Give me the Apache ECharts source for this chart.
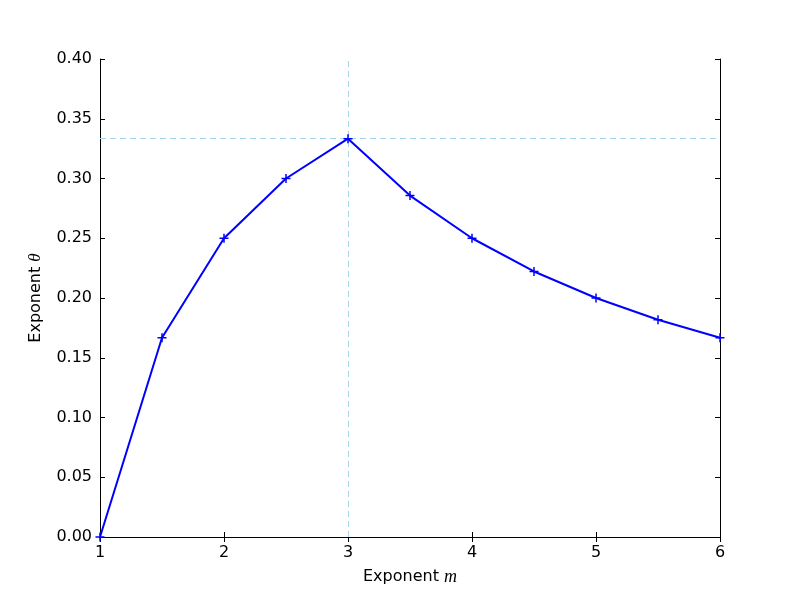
<!DOCTYPE html>
<html>
<head>
<meta charset="utf-8">
<script src="https://cdn.jsdelivr.net/npm/echarts@6/dist/echarts.min.js"></script>
<style>
  html, body { margin: 0; padding: 0; background: #fff; }
  #main { width: 800px; height: 595px; }
</style>
</head>
<body>
<div id="main"></div>
<script>
// exponent m vs exponent theta
var mValues = [1, 1.5, 2, 2.5, 3, 3.5, 4, 4.5, 5, 5.5, 6];
var thetaValues = [0, 0.1667, 0.25, 0.30, 0.3333, 0.2857, 0.25, 0.2222, 0.20, 0.1818, 0.1667];
var peakM = 3;
var peakTheta = 0.3333;

window.onload = function () {
    var chart = echarts.init(document.getElementById('main'));
    var font = 'DejaVu Sans';
    var tick = { show: true, inside: true, length: 5, lineStyle: { color: '#000', width: 1 } };
    var plain = { show: true, lineStyle: { color: '#000', width: 1 } };

    var points = mValues.map(function (m, i) { return [m, thetaValues[i]]; });

    chart.setOption({
        animation: false,
        backgroundColor: '#fff',
        grid: { left: 100, right: 80, top: 59, bottom: 58, containLabel: false },
        xAxis: [{
            type: 'value', min: 1, max: 6, interval: 1,
            axisLine: plain, axisTick: tick, splitLine: { show: false },
            axisLabel: { color: '#000', fontFamily: font, fontSize: 16, margin: 8 },
            name: 'Exponent {i|m}', nameLocation: 'middle', nameGap: 31,
            nameTextStyle: {
                color: '#000', fontFamily: font, fontSize: 16,
                rich: { i: { fontFamily: 'Liberation Serif', fontStyle: 'italic', fontSize: 18 } }
            }
        }, {
            type: 'value', position: 'top', min: 1, max: 6, interval: 1,
            axisLine: plain, axisTick: tick, axisLabel: { show: false }, splitLine: { show: false }
        }],
        yAxis: [{
            type: 'value', min: 0, max: 0.4, interval: 0.05,
            axisLine: plain, axisTick: tick, splitLine: { show: false },
            axisLabel: {
                color: '#000', fontFamily: font, fontSize: 16, margin: 8,
                formatter: function (v) { return v.toFixed(2); }
            },
            name: 'Exponent {i|θ}', nameLocation: 'middle', nameGap: 56, nameRotate: 90,
            nameTextStyle: {
                color: '#000', fontFamily: font, fontSize: 16,
                rich: { i: { fontFamily: 'Liberation Serif', fontStyle: 'italic', fontSize: 17 } }
            }
        }, {
            type: 'value', position: 'right', min: 0, max: 0.4, interval: 0.05,
            axisLine: plain, axisTick: tick, axisLabel: { show: false }, splitLine: { show: false }
        }],
        series: [{
            type: 'line',
            data: points,
            symbol: 'path://M0,-1L0,1M-1,0L1,0',
            symbolSize: 9,
            showAllSymbol: true,
            lineStyle: { color: '#0000ff', width: 2 },
            itemStyle: { color: 'none', borderColor: '#0000ff', borderWidth: 1.5 },
            z: 3,
            markLine: {
                silent: true,
                symbol: 'none',
                precision: 4,
                label: { show: false },
                lineStyle: { color: '#a6d4e8', type: [6, 4], width: 1 },
                data: [{ xAxis: peakM }, { yAxis: peakTheta }],
                z: 1
            }
        }]
    });
};
</script>
</body>
</html>
